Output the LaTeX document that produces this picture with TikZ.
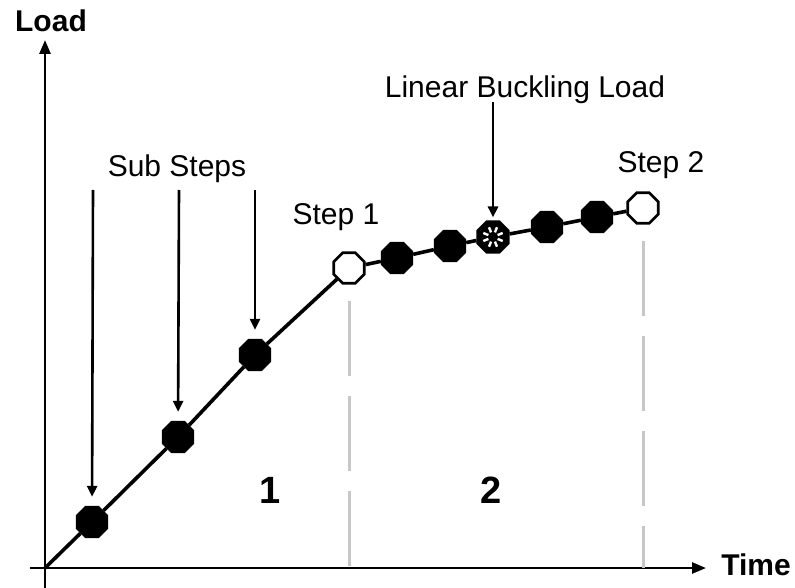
\documentclass[tikz,border=0pt]{standalone}
\usepackage{fontspec}
\setmainfont{Liberation Sans}
\usetikzlibrary{arrows.meta,shapes.geometric}
\tikzset{
  fullpt/.style={regular polygon, regular polygon sides=8, minimum size=34pt, inner sep=0pt, fill=black, draw=black, line width=1pt},
  openpt/.style={regular polygon, regular polygon sides=8, minimum size=33pt, inner sep=0pt, fill=white, draw=black, line width=2.6pt},
  axisarrow/.style={-{Triangle[length=14pt,width=11pt]}, line width=2.6pt},
  subarrow/.style={-{Triangle[length=11pt,width=10pt]}, line width=2.6pt, shorten >=9pt},
  loadpath/.style={line width=3.6pt},
  guideline/.style={draw=black!22, line width=3pt, dash pattern=on 75pt off 20pt},
  plainlabel/.style={font=\fontsize{30}{36}\selectfont, anchor=base, inner sep=0pt},
  axislabel/.style={font=\fontsize{30}{36}\selectfont\bfseries, anchor=base, inner sep=0pt},
  zonelabel/.style={font=\fontsize{38}{44}\selectfont\bfseries, anchor=base, inner sep=0pt}
}

\begin{document}
\begin{tikzpicture}[x=1pt, y=-1pt]
  \useasboundingbox (0,0) rectangle (795,588);

  % axes
  \coordinate (O) at (45,568);
  \coordinate (ybot) at (45,588);
  \coordinate (ytop) at (45,40);
  \coordinate (xleft) at (30,568);
  \coordinate (xright) at (706,568);
  \draw[axisarrow] (ybot) -- (ytop);
  \draw[axisarrow] (xleft) -- (xright);
  \node[axislabel] (load) at (51,32) {Load};
  \node[axislabel] (time) at (756,575) {Time};

  % load points
  \node[fullpt] (d1) at (92,522) {};
  \node[fullpt] (d2) at (178,437) {};
  \node[fullpt] (d3) at (255,355) {};
  \node[openpt] (s1) at (349,268) {};
  \node[fullpt] (d4) at (397,258) {};
  \node[fullpt] (d5) at (450,246) {};
  \node[openpt, fill=black] (lb) at (493,237) {};
  \node[fullpt] (d6) at (547,227) {};
  \node[fullpt] (d7) at (597,217) {};
  \node[openpt] (s2) at (643,208) {};
  \foreach \a in {0,45,...,315}
    \draw[white, line width=2.4pt] ([shift={(\a+22.5:5pt)}]lb.center) -- ([shift={(\a+22.5:10.5pt)}]lb.center);

  \draw[loadpath] (O) -- (d1) -- (d2) -- (d3) -- (s1) -- (d4) -- (d5) -- (lb) -- (d6) -- (d7) -- (s2);

  % step boundaries
  \coordinate (b1) at (349,568);
  \coordinate (b2) at (643,568);
  \draw[guideline] ([yshift=-16pt]s1.south) -- (b1);
  \draw[guideline] ([yshift=-16pt]s2.south) -- (b2);

  % sub step arrows
  \node[plainlabel] (sub) at (177,177) {Sub Steps};
  \coordinate (a1) at (93,190);
  \coordinate (a2) at (179,190);
  \coordinate (a3) at (255,190);
  \draw[subarrow] (a1) -- (d1);
  \draw[subarrow] (a2) -- (d2);
  \draw[subarrow] (a3) -- (d3);

  \node[plainlabel] (buck) at (525,98) {Linear Buckling Load};
  \coordinate (a4) at (493,102);
  \draw[subarrow, shorten >=3pt] (a4) -- (lb);

  \node[plainlabel] (st1) at (336,225) {Step 1};
  \node[plainlabel] (st2) at (661,173) {Step 2};
  \node[zonelabel] (z1) at (270,503) {1};
  \node[zonelabel] (z2) at (491,503) {2};
\end{tikzpicture}
\end{document}
